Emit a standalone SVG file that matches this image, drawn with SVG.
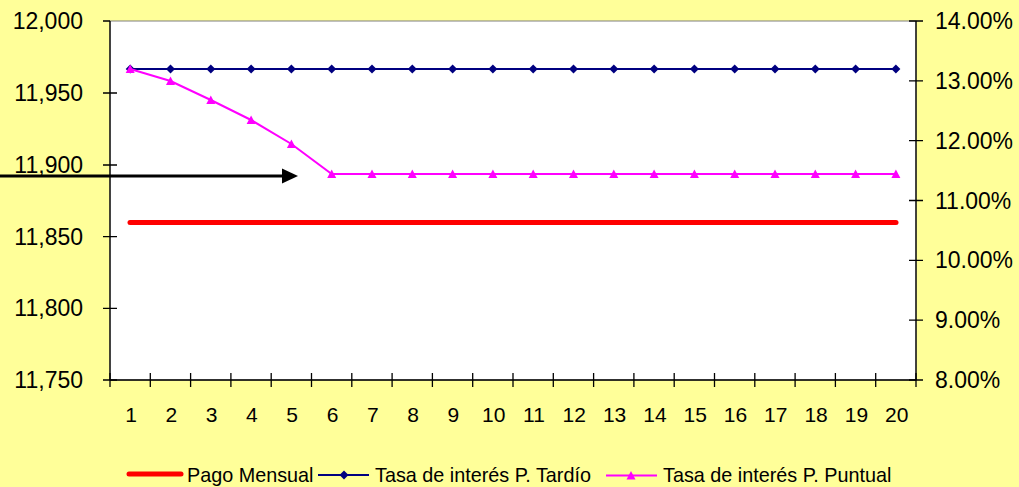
<svg xmlns="http://www.w3.org/2000/svg" width="1019" height="487" viewBox="0 0 1019 487">
<style>
.lbl{font-family:"Liberation Sans",Arial,sans-serif;font-size:23px;fill:#000}
.xl{font-family:"Liberation Sans",Arial,sans-serif;font-size:21px;fill:#000;text-anchor:middle}
.lg{font-family:"Liberation Sans",Arial,sans-serif;font-size:19.8px;fill:#000}
.ax{stroke:#000;stroke-width:1.3;fill:none}
.tardio{stroke:#000080;stroke-width:2;fill:none}
.puntual{stroke:#FF00FF;stroke-width:2;fill:none}
</style>
<defs>
<marker id="dia" markerUnits="userSpaceOnUse" markerWidth="12" markerHeight="12" refX="6" refY="6" orient="0" overflow="visible">
<polygon points="6,1.5 10.5,6 6,10.5 1.5,6" fill="#000080"/>
</marker>
<marker id="tri" markerUnits="userSpaceOnUse" markerWidth="12" markerHeight="12" refX="6" refY="6" orient="0" overflow="visible">
<polygon points="6,1.5 10.5,10 1.5,10" fill="#FF00FF"/>
</marker>
<marker id="arrowhead" markerUnits="userSpaceOnUse" markerWidth="18" markerHeight="18" refX="0" refY="8" orient="auto" overflow="visible">
<polygon points="0,0.5 16,8 0,15.5" fill="#000"/>
</marker>
</defs>
<rect x="0" y="0" width="1019" height="487" fill="#FFFF99"/>
<g id="plot-area">
<rect x="110" y="21" width="806" height="359" fill="#FFFFFF" stroke="#808080" stroke-width="1"/>
</g>
<g id="left-axis">
<line class="ax" x1="110" y1="21" x2="110" y2="380"/>
<path class="ax" d="M103,21H110 M103,93H117 M103,165H117 M103,236.6H117 M103,308.4H117 M103,380H117"/>
<text class="lbl" text-anchor="end" x="83" y="29">12,000</text>
<text class="lbl" text-anchor="end" x="83" y="101">11,950</text>
<text class="lbl" text-anchor="end" x="83" y="173">11,900</text>
<text class="lbl" text-anchor="end" x="83" y="245">11,850</text>
<text class="lbl" text-anchor="end" x="83" y="316">11,800</text>
<text class="lbl" text-anchor="end" x="83" y="388">11,750</text>
</g>
<g id="right-axis">
<line class="ax" x1="916" y1="21" x2="916" y2="380"/>
<path class="ax" d="M909,21H923 M909,80.8H923 M909,140.7H923 M909,200.5H923 M909,260.3H923 M909,320.2H923 M909,380H923"/>
<text class="lbl" x="935" y="29">14.00%</text>
<text class="lbl" x="935" y="89">13.00%</text>
<text class="lbl" x="935" y="149">12.00%</text>
<text class="lbl" x="935" y="209">11.00%</text>
<text class="lbl" x="935" y="268">10.00%</text>
<text class="lbl" x="935" y="328">9.00%</text>
<text class="lbl" x="935" y="388">8.00%</text>
</g>
<g id="x-axis">
<line class="ax" x1="110" y1="380" x2="916" y2="380"/>
<path class="ax" d="M110,373V387 M150.3,373V387 M190.6,373V387 M230.9,373V387 M271.2,373V387 M311.5,373V387 M351.8,373V387 M392.1,373V387 M432.4,373V387 M472.7,373V387 M513,373V387 M553.3,373V387 M593.6,373V387 M633.9,373V387 M674.2,373V387 M714.5,373V387 M754.8,373V387 M795.1,373V387 M835.4,373V387 M875.7,373V387 M916,373V387"/>
<text class="xl" x="131" y="422">1</text>
<text class="xl" x="171.3" y="422">2</text>
<text class="xl" x="211.6" y="422">3</text>
<text class="xl" x="251.9" y="422">4</text>
<text class="xl" x="292.2" y="422">5</text>
<text class="xl" x="332.5" y="422">6</text>
<text class="xl" x="372.8" y="422">7</text>
<text class="xl" x="413.1" y="422">8</text>
<text class="xl" x="453.4" y="422">9</text>
<text class="xl" x="493.7" y="422">10</text>
<text class="xl" x="534" y="422">11</text>
<text class="xl" x="574.3" y="422">12</text>
<text class="xl" x="614.6" y="422">13</text>
<text class="xl" x="654.9" y="422">14</text>
<text class="xl" x="695.2" y="422">15</text>
<text class="xl" x="735.5" y="422">16</text>
<text class="xl" x="775.8" y="422">17</text>
<text class="xl" x="816.1" y="422">18</text>
<text class="xl" x="856.4" y="422">19</text>
<text class="xl" x="896.7" y="422">20</text>
</g>
<g id="series">
<line id="pago-mensual" x1="130" y1="222.5" x2="896" y2="222.5" stroke="#FF0000" stroke-width="5" stroke-linecap="round"/>
<polyline id="tasa-tardio" class="tardio" marker-start="url(#dia)" marker-mid="url(#dia)" marker-end="url(#dia)" points="130.2,69 170.5,69 210.8,69 251.1,69 291.4,69 331.7,69 372,69 412.3,69 452.6,69 492.9,69 533.2,69 573.5,69 613.8,69 654.1,69 694.4,69 734.7,69 775,69 815.3,69 855.6,69 895.9,69"/>
<polyline id="tasa-puntual" class="puntual" marker-start="url(#tri)" marker-mid="url(#tri)" marker-end="url(#tri)" points="130.2,69 170.5,81 210.8,100 251.1,120 291.4,144 331.7,174 372,174 412.3,174 452.6,174 492.9,174 533.2,174 573.5,174 613.8,174 654.1,174 694.4,174 734.7,174 775,174 815.3,174 855.6,174 895.9,174"/>
</g>
<g id="connectors">
<line x1="0" y1="176" x2="282" y2="176" stroke="#000" stroke-width="3" marker-end="url(#arrowhead)"/>
</g>
<g id="legend">
<line x1="129" y1="474" x2="181" y2="474" stroke="#FF0000" stroke-width="5" stroke-linecap="round"/>
<text class="lg" x="187" y="482">Pago Mensual</text>
<line class="tardio" x1="318" y1="475" x2="369" y2="475"/>
<polygon points="344,470.5 348.5,475 344,479.5 339.5,475" fill="#000080"/>
<text class="lg" x="375" y="482">Tasa de interés P. Tardío</text>
<line class="puntual" x1="606" y1="475.5" x2="657" y2="475.5"/>
<polygon points="631,471 635.5,479.5 626.5,479.5" fill="#FF00FF"/>
<text class="lg" x="663" y="482">Tasa de interés P. Puntual</text>
</g>
</svg>
